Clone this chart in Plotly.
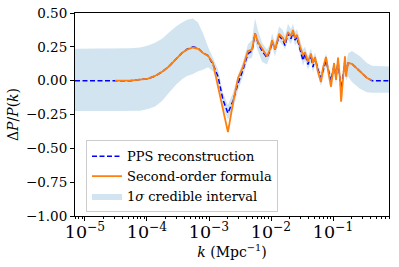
import plotly.graph_objects as go

# wavenumber k (Mpc^-1)
k = [6.90e-6, 1.75e-5, 3.05e-5, 5.32e-5, 7.71e-5, 1.04e-4, 1.35e-4, 1.75e-4, 2.26e-4, 2.94e-4,
     3.67e-4, 4.42e-4, 5.52e-4, 6.65e-4, 8.00e-4, 9.64e-4, 1.16e-3, 1.40e-3, 1.68e-3, 2.02e-3,
     2.44e-3, 2.94e-3, 3.53e-3, 4.25e-3, 4.94e-3, 5.52e-3, 6.17e-3, 7.16e-3, 8.61e-3, 9.64e-3,
     1.04e-2, 1.16e-2, 1.35e-2, 1.56e-2, 1.68e-2, 1.88e-2, 2.10e-2, 2.26e-2, 2.44e-2, 2.62e-2,
     2.94e-2, 3.28e-2, 3.53e-2, 3.95e-2, 4.42e-2, 4.75e-2, 5.13e-2, 5.73e-2, 6.40e-2, 6.90e-2,
     7.71e-2, 8.61e-2, 9.29e-2, 0.104, 0.112, 0.1205, 0.130, 0.135, 0.145, 0.156,
     0.162, 0.175, 0.202, 0.272, 0.353, 0.426, 0.80]

pps = [0, 0, 0, 0, 0.008, 0.015, 0.035, 0.065, 0.105, 0.16,
       0.205, 0.232, 0.25, 0.24, 0.205, 0.185, 0.12, 0.03, -0.14, -0.24,
       -0.15, -0.02, 0.08, 0.20, 0.22, 0.35, 0.28, 0.22, 0.17, 0.22,
       0.29, 0.23, 0.33, 0.30, 0.26, 0.35, 0.31, 0.36, 0.30, 0.32,
       0.24, 0.15, 0.20, 0.12, 0.19, 0.10, 0.17, 0.08, 0.02, 0.08,
       0.15, 0.06, 0.0, 0.11, 0.03, 0.14, 0.02, -0.06, 0.03, 0.15,
       0.06, 0.13, 0.125, 0.067, 0.02, 0.0, 0.0]

second_order = [None, None, 0, 0, 0.008, 0.015, 0.035, 0.065, 0.105, 0.16,
                0.205, 0.23, 0.245, 0.235, 0.205, 0.185, 0.13, -0.045, -0.22, -0.38,
                -0.165, 0.02, 0.10, 0.22, 0.23, 0.35, 0.285, 0.235, 0.18, 0.23,
                0.30, 0.23, 0.345, 0.315, 0.28, 0.36, 0.33, 0.375, 0.315, 0.34,
                0.25, 0.19, 0.21, 0.14, 0.20, 0.13, 0.175, 0.065, -0.01, 0.094,
                0.175, 0.04, -0.045, 0.13, 0.005, 0.17, 0.005, -0.155, 0.005, 0.18,
                0.03, 0.13, 0.125, 0.067, 0.02, 0.003, None]

band_lo = [-0.225, -0.225, -0.225, -0.225, -0.222, -0.21, -0.19, -0.15, -0.09, -0.03,
           0.01, 0.035, 0.05, 0.07, 0.08, 0.10, 0.07, -0.02, -0.19, -0.29,
           -0.21, -0.07, 0.03, 0.16, 0.17, 0.29, 0.22, 0.14, 0.12, 0.18,
           0.25, 0.18, 0.29, 0.26, 0.23, 0.30, 0.27, 0.32, 0.26, 0.28,
           0.19, 0.11, 0.15, 0.08, 0.14, 0.06, 0.12, 0.03, -0.04, 0.03,
           0.11, 0.0, -0.06, 0.06, -0.03, 0.09, -0.04, -0.12, -0.03, 0.10,
           0.0, 0.03, -0.01, -0.06, -0.085, -0.09, -0.09]

band_hi = [0.235, 0.235, 0.237, 0.24, 0.245, 0.26, 0.28, 0.31, 0.355, 0.40,
           0.43, 0.45, 0.46, 0.43, 0.35, 0.25, 0.17, 0.08, -0.09, -0.18,
           -0.09, 0.04, 0.14, 0.27, 0.30, 0.46, 0.37, 0.28, 0.23, 0.27,
           0.35, 0.28, 0.40, 0.37, 0.33, 0.42, 0.38, 0.42, 0.36, 0.38,
           0.30, 0.23, 0.25, 0.18, 0.24, 0.16, 0.21, 0.12, 0.06, 0.12,
           0.20, 0.10, 0.05, 0.15, 0.07, 0.19, 0.07, 0.0, 0.08, 0.20,
           0.12, 0.20, 0.22, 0.18, 0.13, 0.11, 0.105]

y_ticks = [-1.0, -0.75, -0.5, -0.25, 0.0, 0.25, 0.5]

FONT = "DejaVu Serif"

fig = go.Figure()

fig.add_trace(go.Scatter(
    x=k + k[::-1], y=band_hi + band_lo[::-1],
    fill="toself", fillcolor="rgba(31,119,180,0.2)",
    line=dict(width=0), mode="lines", hoverinfo="skip",
    name="1<i>σ</i> credible interval", legendrank=3))

fig.add_trace(go.Scatter(
    x=k, y=pps, mode="lines",
    line=dict(color="#0000ff", width=1.5, dash="5px,2.5px"),
    name="PPS reconstruction", legendrank=1))

fig.add_trace(go.Scatter(
    x=k, y=second_order, mode="lines",
    line=dict(color="#ff7f0e", width=1.8),
    name="Second-order formula", legendrank=2))

fig.update_layout(
    width=399, height=267,
    margin=dict(l=75, r=10, t=13, b=51, autoexpand=False),
    paper_bgcolor="white", plot_bgcolor="white",
    font=dict(family=FONT, size=13, color="black"),
    showlegend=True,
    legend=dict(x=0.035, y=0.018, xanchor="left", yanchor="bottom",
                bgcolor="rgba(255,255,255,0.8)", bordercolor="#cccccc", borderwidth=1,
                font=dict(family=FONT, size=13, color="black"), tracegroupgap=0),
)

fig.update_xaxes(
    type="log", range=[-5.161, -0.097], automargin=False,
    showline=True, linecolor="black", linewidth=1, mirror=True,
    showgrid=False, zeroline=False,
    ticks="outside", ticklen=4, tickwidth=1, tickcolor="black",
    dtick=1, exponentformat="power", ticklabelstandoff=-3,
    tickfont=dict(family=FONT, size=14, color="black"),
    minor=dict(ticks="outside", ticklen=2, tickcolor="black", showgrid=False),
    title=dict(text="<i>k</i> (Mpc<sup>−1</sup>)", font=dict(family=FONT, size=14, color="black"), standoff=0),
)

fig.update_yaxes(
    range=[-1.0, 0.5], automargin=False,
    showline=True, linecolor="black", linewidth=1, mirror=True,
    showgrid=False, zeroline=False,
    ticks="outside", ticklen=4, tickwidth=1, tickcolor="black",
    tickvals=y_ticks, tickformat=".2f", ticklabeloverflow="allow",
    tickfont=dict(family=FONT, size=13.5, color="black"),
    title=dict(text="Δ<i>P</i>/<i>P</i>(<i>k</i>)", font=dict(family=FONT, size=14, color="black"), standoff=4),
)

# remove the browser's default 8px body margin so the figure fills the window
fig.write_html("out.html", config={"displayModeBar": False},
               post_script="document.body.style.margin='0';")
